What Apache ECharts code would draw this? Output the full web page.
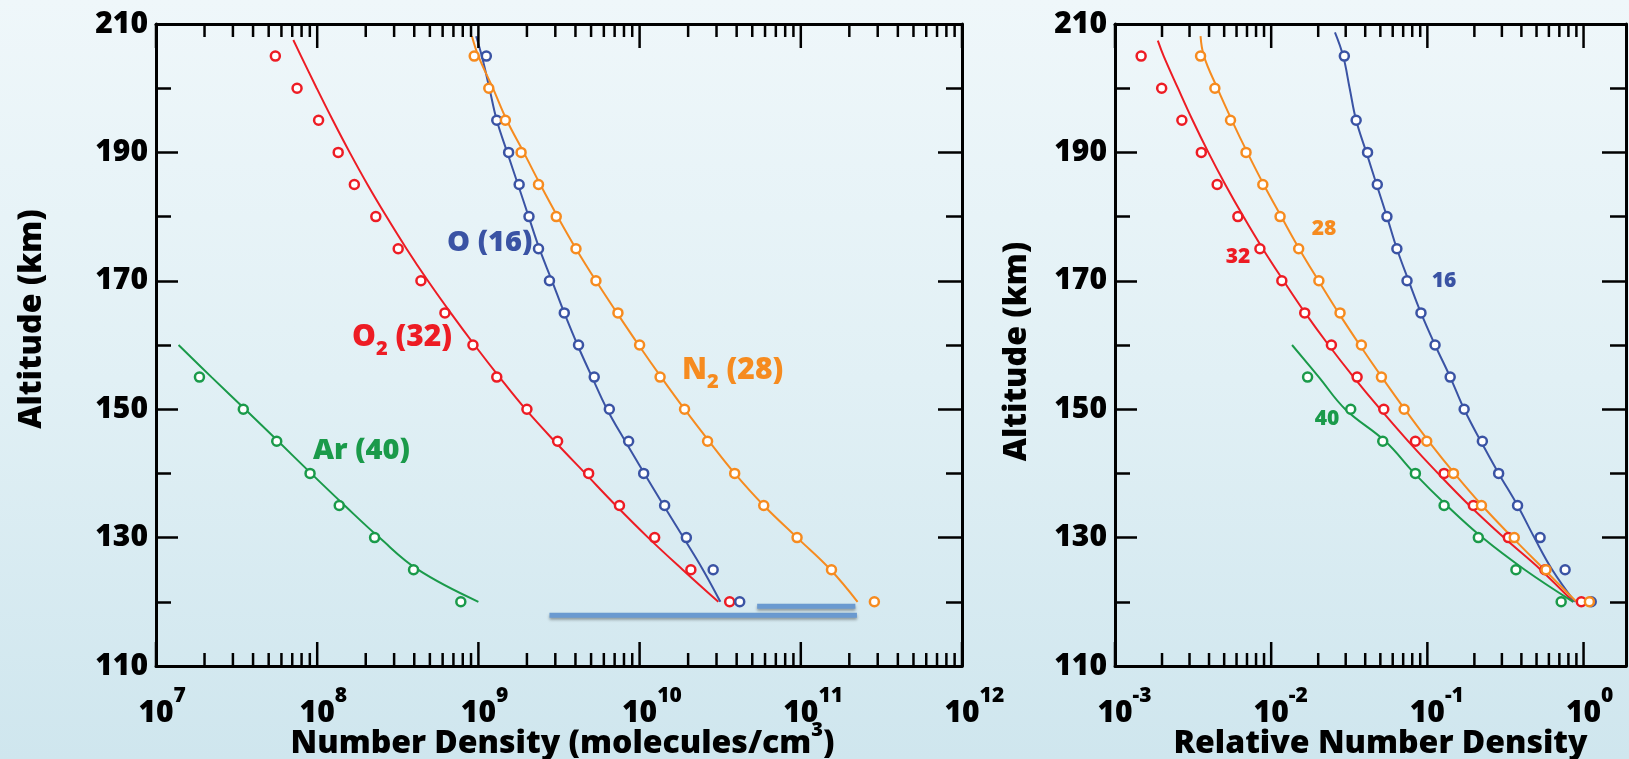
<!DOCTYPE html>
<html>
<head>
<meta charset="utf-8">
<script src="https://cdn.jsdelivr.net/npm/echarts@6/dist/echarts.min.js"></script>
<style>
html,body{margin:0;padding:0;}
#c{width:1629px;height:759px;background:linear-gradient(180deg,#eff7fa 0%,#e1f0f5 50%,#cfe6ee 100%);}
</style>
</head>
<body>
<div id="c"></div>
<script>
// ---------- data (altitude in km) ----------
const altPts = [205,200,195,190,185,180,175,170,165,160,155,150,145,140,135,130,125,120];
const altO   = [205,195,190,185,180,175,170,165,160,155,150,145,140,135,130,125,120];
const altAr  = [155,150,145,140,135,130,125,120];

// absolute number density (molecules/cm^3) - circles
const o2Dots = [5.5e7,7.5e7,1.02e8,1.35e8,1.70e8,2.31e8,3.18e8,4.4e8,6.2e8,9.25e8,1.30e9,2.0e9,3.1e9,4.83e9,7.5e9,1.24e10,2.08e10,3.62e10];
const oDots  = [1.12e9,1.30e9,1.54e9,1.79e9,2.06e9,2.36e9,2.76e9,3.41e9,4.18e9,5.23e9,6.49e9,8.55e9,1.06e10,1.43e10,1.95e10,2.86e10,4.18e10];
const n2Dots = [9.42e8,1.16e9,1.47e9,1.84e9,2.36e9,3.04e9,4.03e9,5.36e9,7.34e9,1.0e10,1.34e10,1.90e10,2.64e10,3.89e10,5.89e10,9.48e10,1.55e11,2.86e11];
const arDots = [1.86e7,3.48e7,5.61e7,9.03e7,1.37e8,2.27e8,3.96e8,7.78e8];

// absolute number density - model curves
const o2LineAlt = [207.5,205,200,195,190,185,180,175,170,165,160,155,150,145,140,135,130,125,120];
const o2Line = [7.11e7,7.94e7,9.93e7,1.25e8,1.59e8,2.05e8,2.69e8,3.58e8,4.86e8,6.73e8,9.46e8,1.35e9,1.96e9,2.97e9,4.60e9,7.13e9,1.13e10,1.85e10,3.08e10];
const oLineAlt = [208.1,205,200,195,190,185,180,175,170,165,160,155,150,145,140,135,130,125,120];
const oLine = [9.68e8,1.05e9,1.17e9,1.30e9,1.51e9,1.76e9,2.05e9,2.39e9,2.86e9,3.41e9,4.12e9,5.07e9,6.28e9,8.15e9,1.07e10,1.41e10,1.87e10,2.47e10,3.17e10];
const n2LineAlt = [208.1,205,200,195,190,185,180,175,170,165,160,155,150,145,140,135,130,125,120];
const n2Line = [9.12e8,1.0e9,1.23e9,1.50e9,1.91e9,2.42e9,3.10e9,4.03e9,5.36e9,7.24e9,9.86e9,1.36e10,1.90e10,2.70e10,3.89e10,5.89e10,9.48e10,1.53e11,2.25e11];
const arLineAlt = [160,155,150,145,140,135,130,125,120];
const arLine = [1.38e7,2.21e7,3.57e7,5.73e7,9.16e7,1.48e8,2.43e8,4.22e8,1.0e9];

// highlight bars near 118-119 km (left panel)
const barLow  = {alt:117.9, from:2.76e9, to:2.23e11};
const barHigh = {alt:119.3, from:5.36e10, to:2.18e11};

// relative number density - circles
const o2RelDots = [1.47e-3,1.99e-3,2.68e-3,3.57e-3,4.51e-3,6.12e-3,8.47e-3,1.17e-2,1.64e-2,2.43e-2,3.55e-2,5.26e-2,8.38e-2,0.128,0.197,0.330,0.566,0.968];
const n2RelDots = [3.53e-3,4.36e-3,5.49e-3,6.90e-3,8.84e-3,1.14e-2,1.50e-2,2.02e-2,2.76e-2,3.78e-2,5.08e-2,7.10e-2,9.91e-2,0.147,0.222,0.360,0.575,1.09];
const oRelDots  = [2.94e-2,3.50e-2,4.14e-2,4.78e-2,5.51e-2,6.38e-2,7.41e-2,9.10e-2,0.112,0.140,0.172,0.225,0.286,0.378,0.527,0.762,1.12];
const arRelDots = [1.71e-2,3.23e-2,5.18e-2,8.38e-2,0.128,0.212,0.369,0.719];

// relative number density - model curves
const o2RelLineAlt = [207.4,205,200,195,190,185,180,175,170,165,160,155,150,145,140,135,130,125,120];
const o2RelLine = [1.88e-3,2.05e-3,2.53e-3,3.14e-3,3.96e-3,5.08e-3,6.64e-3,8.83e-3,1.20e-2,1.65e-2,2.33e-2,3.37e-2,4.99e-2,7.55e-2,0.117,0.186,0.309,0.531,0.859];
const n2RelLineAlt = [208.1,205,200,195,190,185,180,175,170,165,160,155,150,145,140,135,130,125,120];
const n2RelLine = [3.53e-3,3.71e-3,4.52e-3,5.60e-3,7.03e-3,8.95e-3,1.16e-2,1.51e-2,2.01e-2,2.70e-2,3.69e-2,5.11e-2,7.16e-2,0.102,0.149,0.224,0.351,0.562,0.900];
const oRelLineAlt = [208.7,205,200,195,190,185,180,175,170,165,160,155,150,145,140,135,130,125,120];
const oRelLine = [2.56e-2,2.89e-2,3.18e-2,3.50e-2,4.07e-2,4.73e-2,5.51e-2,6.38e-2,7.59e-2,9.10e-2,0.112,0.140,0.172,0.220,0.286,0.378,0.484,0.630,0.879];
const arRelLineAlt = [160,155,150,145,140,135,130,125,120];
const arRelLine = [1.36e-2,2.02e-2,2.98e-2,5.38e-2,8.26e-2,0.133,0.225,0.420,0.859];

// axes
const yMin = 110, yMax = 210, yStep = 20;
const leftXRange  = [1e7, 1e12];
const rightXRange = [1e-3, 1.87];
const tickMultipliers = [2,3,4,5,6,7,8,9];

// ---------- styling ----------
const FONT = '"Open Sans", "Liberation Sans", sans-serif';
const FW = 800;
const C = {o2:'#ed1c24', o:'#3a53a4', n2:'#f68b1f', ar:'#1a9a4a', bar:'#6a9ad0'};

function decadeTicks(range) {
  const out = [];
  const e0 = Math.round(Math.log10(range[0])), e1 = Math.floor(Math.log10(range[1]) + 1e-9);
  for (let e = e0; e <= e1; e++) {
    const base = Math.pow(10, e);
    out.push([base, yMin, 1]);
    tickMultipliers.forEach(m => { const v = m * base; if (v < range[1] * 0.999) out.push([v, yMin, 0]); });
  }
  return out;
}

function renderTick(params, api) {
  const v = api.value(0), major = api.value(2);
  const b = api.coord([v, yMin]), t = api.coord([v, yMax]);
  const len = major ? 24 : 13;
  const st = {stroke:'#000', lineWidth:2.5};
  return {type:'group', children:[
    {type:'line', shape:{x1:b[0], y1:b[1], x2:b[0], y2:b[1]-len}, style:st},
    {type:'line', shape:{x1:t[0], y1:t[1], x2:t[0], y2:t[1]+len}, style:st}
  ]};
}

function expLabel(v) {
  const e = Math.log10(v), r = Math.round(e);
  if (Math.abs(e - r) > 1e-6) return '';
  const s = String(r);
  return '{p|' + s + '}{b|10}{s|' + s + '}';
}
const expRich = {
  p:{fontSize:21, fontWeight:FW, fontFamily:FONT, color:'rgba(0,0,0,0)', verticalAlign:'top'},
  b:{fontSize:30, fontWeight:FW, fontFamily:FONT, color:'#000', verticalAlign:'top', padding:[12,0,0,0]},
  s:{fontSize:21, fontWeight:FW, fontFamily:FONT, color:'#000', verticalAlign:'top'}
};

function xAxes(gi, range) {
  return [
    {gridIndex:gi, type:'log', position:'bottom', min:range[0], max:range[1],
     axisLine:{show:true, onZero:false, lineStyle:{color:'#000', width:3}},
     axisTick:{show:false}, minorTick:{show:false}, splitLine:{show:false},
     axisLabel:{show:true, formatter:expLabel, rich:expRich, margin:20, showMinLabel:true, showMaxLabel:true}},
    {gridIndex:gi, type:'log', position:'top', min:range[0], max:range[1],
     axisLine:{show:true, onZero:false, lineStyle:{color:'#000', width:3}},
     axisTick:{show:false}, axisLabel:{show:false}, splitLine:{show:false}}
  ];
}
function yAxes(gi) {
  const common = {gridIndex:gi, type:'value', min:yMin, max:yMax, interval:yStep,
    axisLine:{show:true, onZero:false, lineStyle:{color:'#000', width:3}},
    splitLine:{show:false}, minorSplitLine:{show:false}};
  return [
    Object.assign({}, common, {position:'left',
      axisTick:{show:true, inside:true, length:22, lineStyle:{color:'#000', width:2.5}},
      minorTick:{show:true, splitNumber:2, length:15, lineStyle:{color:'#000', width:2.5}},
      axisLabel:{color:'#000', fontSize:30, fontWeight:FW, fontFamily:FONT, margin:8}}),
    Object.assign({}, common, {position:'right',
      axisTick:{show:true, inside:true, length:24, lineStyle:{color:'#000', width:2.5}},
      minorTick:{show:true, splitNumber:2, length:16, lineStyle:{color:'#000', width:2.5}},
      axisLabel:{show:false}})
  ];
}

function pairs(vals, alts) { return vals.map((v, i) => [v, alts[i]]); }
function lineS(gi, vals, alts, color) {
  return {type:'line', xAxisIndex:gi*2, yAxisIndex:gi*2, data:pairs(vals, alts), smooth:0.4,
    symbol:'none', showSymbol:false, lineStyle:{color:color, width:2}, z:3, silent:true};
}
function dotS(gi, vals, alts, color) {
  return {type:'scatter', xAxisIndex:gi*2, yAxisIndex:gi*2, data:pairs(vals, alts), symbol:'circle', symbolSize:9,
    itemStyle:{color:'#fff', borderColor:color, borderWidth:2.5, opacity:1}, z:4, silent:true};
}
function barS(bar) {
  return {type:'line', xAxisIndex:0, yAxisIndex:0, data:[[bar.from, bar.alt],[bar.to, bar.alt]], symbol:'none',
    lineStyle:{color:C.bar, width:5, shadowBlur:3, shadowColor:'rgba(0,0,0,0.35)', shadowOffsetY:2}, z:2, silent:true};
}
function tickS(gi, range) {
  return {type:'custom', xAxisIndex:gi*2, yAxisIndex:gi*2, data:decadeTicks(range), renderItem:renderTick,
    encode:{x:0, y:1}, clip:false, z:10, silent:true};
}

const chart = echarts.init(document.getElementById('c'), null, {renderer:'canvas'});

function txt(x, y, text, color, size, rich) {
  const st = {text:text, x:0, y:0, fill:color, fontSize:size, fontWeight:FW, fontFamily:FONT, align:'left', verticalAlign:'middle'};
  if (rich) st.rich = rich;
  return {type:'text', x:x, y:y, style:st, z:20, silent:true};
}
function subRich(color) {
  return {a:{fontSize:30, fontWeight:FW, fontFamily:FONT, color:color, verticalAlign:'top'},
          s:{fontSize:20, fontWeight:FW, fontFamily:FONT, color:color, verticalAlign:'top', padding:[17,0,0,0]}};
}
function smallLbl(x, y, text, color) {
  return {type:'text', x:x, y:y, silent:true, style:{text:text, fill:color, fontSize:21, fontWeight:FW, fontFamily:FONT, align:'center', verticalAlign:'middle'}};
}

const option = {
  animation:false,
  backgroundColor:'transparent',
  grid:[
    {left:156, right:667, top:24, bottom:93, containLabel:false},
    {left:1115, right:-12, top:24, bottom:93, containLabel:false}
  ],
  xAxis:[].concat(xAxes(0, leftXRange), xAxes(1, rightXRange)),
  yAxis:[].concat(yAxes(0), yAxes(1)),
  series:[
    barS(barLow), barS(barHigh),
    lineS(0, o2Line, o2LineAlt, C.o2), lineS(0, oLine, oLineAlt, C.o),
    lineS(0, n2Line, n2LineAlt, C.n2), lineS(0, arLine, arLineAlt, C.ar),
    dotS(0, o2Dots, altPts, C.o2), dotS(0, oDots, altO, C.o),
    dotS(0, n2Dots, altPts, C.n2), dotS(0, arDots, altAr, C.ar),
    lineS(1, o2RelLine, o2RelLineAlt, C.o2), lineS(1, oRelLine, oRelLineAlt, C.o),
    lineS(1, n2RelLine, n2RelLineAlt, C.n2), lineS(1, arRelLine, arRelLineAlt, C.ar),
    dotS(1, o2RelDots, altPts, C.o2), dotS(1, oRelDots, altO, C.o),
    dotS(1, n2RelDots, altPts, C.n2), dotS(1, arRelDots, altAr, C.ar),
    tickS(0, leftXRange), tickS(1, rightXRange)
  ],
  graphic:[
    {type:'text', x:31.5, y:319, rotation:Math.PI/2, silent:true,
     style:{text:'Altitude (km)', fill:'#000', fontSize:32, fontWeight:FW, fontFamily:FONT, align:'center', verticalAlign:'middle'}},
    {type:'text', x:1016.5, y:351.5, rotation:Math.PI/2, silent:true,
     style:{text:'Altitude (km)', fill:'#000', fontSize:32, fontWeight:FW, fontFamily:FONT, align:'center', verticalAlign:'middle'}},
    {type:'text', x:562.5, y:740, silent:true,
     style:{text:'{a|Number Density (molecules/cm}{s|3}{a|)}', align:'center', verticalAlign:'middle',
       rich:{a:{fontSize:32, fontWeight:FW, fontFamily:FONT, color:'#000', verticalAlign:'top', padding:[7,0,0,0]},
             s:{fontSize:20, fontWeight:FW, fontFamily:FONT, color:'#000', verticalAlign:'top'}}}},
    {type:'text', x:1380.5, y:744, silent:true,
     style:{text:'Relative Number Density', fill:'#000', fontSize:32, fontWeight:FW, fontFamily:FONT, align:'center', verticalAlign:'middle'}},
    txt(447, 243, 'O (16)', C.o, 29),
    txt(352, 340.5, '{a|O}{s|2}{a| (32)}', C.o2, 30, subRich(C.o2)),
    txt(682, 374, '{a|N}{s|2}{a| (28)}', C.n2, 30, subRich(C.n2)),
    txt(313, 451, 'Ar (40)', C.ar, 29),
    smallLbl(1324, 229.5, '28', C.n2),
    smallLbl(1238, 257, '32', C.o2),
    smallLbl(1444, 281, '16', C.o),
    smallLbl(1327, 419, '40', C.ar)
  ]
};
chart.setOption(option);
</script>
</body>
</html>
